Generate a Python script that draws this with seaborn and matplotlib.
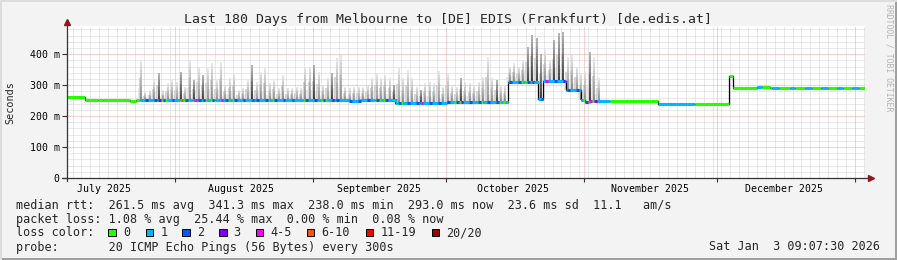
import numpy as np
import pandas as pd
import matplotlib
matplotlib.use("Agg")
import matplotlib.pyplot as plt
import matplotlib.dates as mdates
from matplotlib.patches import Rectangle
import seaborn as sns

# ---------------- data ----------------
title = "Last 180 Days from Melbourne to [DE] EDIS (Frankfurt) [de.edis.at]"
window_end = "2026-01-03 09:07:30"
window_days = 180

# median rtt as steps: day (since window start) where a level begins, level in ms
median_day = [0.0, 4.4, 7.3, 8.5, 14.5, 15.9, 64.0, 66.3, 74.1, 79.8, 85.9,
              99.6, 106.3, 107.4, 112.6, 116.0, 116.9, 118.0, 133.3, 149.3,
              150.2, 155.6, 158.5]
median_ms = [263, 251, 253, 251, 248, 251, 248, 251, 241, 243, 245,
             311, 255, 312, 285, 252, 247, 250, 239, 330,
             291, 294, 291]

# loss category of the median line: day where a run begins, category index
loss_day = [0, 16.8, 20.6, 23.1, 25.8, 28.5, 31.4, 33.7, 35.9, 38.4, 45.4, 47.6,
            53.5, 54.6, 56.8, 59.1, 69.7, 72.4, 74.6, 76.0, 87.2, 89.5, 92.6,
            94.0, 97.1, 99.6, 102.3, 104.5, 116.2, 119.2, 122.5, 133.3, 141.7,
            155.6, 156.8, 159.0, 160.5, 163.0, 164.2, 166.5, 168.0, 170.0, 171.5,
            173.5, 175.0, 177.0, 178.5]
loss_cat = [0, 1, 0, 1, 0, 1, 0, 1, 0, 1, 0, 1,
            0, 1, 0, 1, 0, 1, 0, 1, 0, 1, 0,
            1, 0, 1, 0, 1, 0, 1, 0, 1, 0,
            1, 0, 1, 0, 1, 0, 1, 0, 1, 0,
            1, 0, 1, 0]

# daily congestion spikes ("smoke"): one per day starting at spike_first_day
spike_first_day = 17.0
spike_peak_ms = [381, 279, 283, 317, 338, 283, 306, 317, 311, 344,
                 295, 381, 317, 360, 333, 354, 371, 317, 376, 300,
                 322, 338, 284, 290, 317, 366, 311, 344, 354, 306,
                 317, 290, 333, 290, 290, 295, 290, 360, 360, 366,
                 344, 300, 322, 338, 387, 398, 295, 290, 295, 295,
                 295, 300, 322, 338, 322, 333, 322, 300, 354, 322,
                 349, 322, 295, 284, 306, 311, 306, 345, 295, 338,
                 300, 295, 322, 311, 306, 300, 311, 327, 392, 322,
                 317, 300, 300, 360, 371, 360, 381, 424, 462, 451,
                 400, 414, 381, 446, 467, 472, 392, 397, 360, 340,
                 345, 408, 392, 322]
spike_loss = [1, 2, 1, 2, 3, 2, 1, 2, 1, 5,
              2, 1, 4, 2, 2, 1, 2, 1, 4, 2,
              1, 2, 1, 2, 1, 2, 2, 1, 2, 1,
              2, 1, 2, 1, 2, 1, 1, 2, 1, 2,
              1, 2, 1, 3, 2, 1, 1, 2, 1, 2,
              1, 2, 1, 2, 1, 2, 1, 1, 2, 1,
              2, 1, 2, 4, 1, 2, 1, 2, 1, 2,
              1, 2, 3, 1, 2, 1, 2, 1, 2, 1,
              2, 1, 1, 2, 1, 2, 1, 2, 2, 1,
              2, 4, 1, 2, 1, 3, 2, 1, 2, 1,
              2, 4, 3, 1]
dark_spikes = [4, 9, 12, 14, 25, 39, 43, 57, 63, 72, 80, 87, 88, 89, 90, 93, 94, 95, 101]

loss_colors = ["#26ff00", "#00b8ff", "#0059ff", "#7e00ff",
               "#ff00ff", "#ff5500", "#ff0000", "#a10000"]
loss_labels = ["0", "1", "2", "3", "4-5", "6-10", "11-19", "20/20"]

y_ticks = [0, 100, 200, 300, 400]
y_tick_labels = ["0", "100 m", "200 m", "300 m", "400 m"]

legend_rows = [
    "median rtt:  261.5 ms avg  341.3 ms max  238.0 ms min  293.0 ms now  23.6 ms sd  11.1   am/s",
    "packet loss: 1.08 % avg  25.44 % max  0.00 % min  0.08 % now",
    "loss color:",
    "probe:       20 ICMP Echo Pings (56 Bytes) every 300s",
]
stamp = "Sat Jan  3 09:07:30 2026"
side_note = "RRDTOOL / TOBI OETIKER"

# ---------------- figure ----------------
sns.set_style("white")
plt.rcParams['font.family'] = ['DejaVu Sans Mono', 'DejaVu Sans']

W, H = 897, 260
fig = plt.figure(figsize=(W / 100, H / 100), dpi=100)
fig.patch.set_facecolor('#f3f3f3')

L, R, T, B = 67.0, 865.4, 26.0, 178.0
ax = fig.add_axes([L / W, 1 - B / H, (R - L) / W, (B - T) / H])
ax.set_facecolor('white')

end = pd.Timestamp(window_end)
start = end - pd.Timedelta(days=window_days)
t0 = mdates.date2num(start.to_pydatetime())
t1 = mdates.date2num(end.to_pydatetime())
px_per_day = 4.444
ax.set_xlim(t0 + (L - 65.4) / px_per_day, t1)
ax.set_ylim(0, 491)
for s in ax.spines.values():
    s.set_visible(False)

dotted = (0, (1, 1))
grid_kw = dict(lw=0.72, ls=dotted)
minor_c, major_c = '#d2d2d2', '#eea4a4'
# horizontal grid
for v in range(20, 491, 20):
    if v % 100 == 0:
        ax.axhline(v, color=major_c, zorder=0.6, **grid_kw)
    else:
        ax.axhline(v, color=minor_c, zorder=0.5, **grid_kw)
# vertical grid
months = pd.date_range(start.normalize() + pd.offsets.MonthBegin(1), end, freq='MS')
month_nums = [mdates.date2num(m.to_pydatetime()) for m in months]
anchor = pd.Timestamp('2026-01-01')
minor_days = [anchor + pd.Timedelta(days=2 * k) for k in range(-95, 3)]
month_set = set(months)
for m in minor_days:
    if start < m <= end and m not in month_set:
        ax.axvline(mdates.date2num(m.to_pydatetime()), color=minor_c, zorder=0.5,
                   **grid_kw)
for mn in month_nums:
    ax.axvline(mn, color=major_c, zorder=0.6, **grid_kw)

# ticks
ax.set_xticks(month_nums)
ax.set_xticklabels([])
mids = [pd.Timestamp(year=m.year, month=m.month, day=16)
        for m in pd.date_range(start.normalize() - pd.offsets.MonthBegin(1), end, freq='MS')]
mids = [m for m in mids if start < m < end]
ax.set_xticks([mdates.date2num(m.to_pydatetime()) for m in mids], minor=True)
ax.set_xticklabels([m.strftime('%B %Y') for m in mids], minor=True)
ax.tick_params(axis='x', which='major', bottom=True, length=3, width=0.8, color='#333333')
ax.tick_params(axis='x', which='minor', bottom=True, length=0, pad=4.0, labelsize=7.1,
               labelcolor='black')
ax.set_yticks(y_ticks)
ax.set_yticklabels(y_tick_labels)
ax.tick_params(axis='y', which='major', left=True, length=3.6, width=0.8, color='#333333',
               pad=1.6, labelsize=7.1, labelcolor='black')

# ---------------- marks ----------------
med_d = np.array(median_day, dtype=float)
med_v = np.array(median_ms, dtype=float)
loss_d = np.array(loss_day, dtype=float)
loss_c = np.array(loss_cat)


def med_at(d):
    return med_v[np.searchsorted(med_d, d, side='right') - 1]


def loss_at(d):
    return loss_c[np.searchsorted(loss_d, d, side='right') - 1]


# smoke
dark = set(dark_spikes)
for k, peak in enumerate(spike_peak_ms):
    d = spike_first_day + k
    base = med_at(d)
    x = t0 + d
    n = 12
    edges = np.linspace(base, peak, n + 1)
    if k in dark:
        greys = np.linspace(0.05, 0.62, n)
    else:
        greys = np.linspace(0.45, 0.88, n)
    h = peak - base
    ax.vlines([x - 0.55], base, base + 0.3 * h, colors='0.9', lw=1.3, zorder=1.8)
    ax.vlines([x - 0.28], base, base + 0.55 * h, colors='0.82', lw=1.3, zorder=1.9)
    ax.vlines([x] * n, edges[:-1], edges[1:], colors=[str(g) for g in greys],
              lw=1.1, zorder=2)

# black median step line
xs, ys = [], []
bounds = list(med_d) + [window_days]
for i, v in enumerate(med_v):
    xs += [t0 + bounds[i], t0 + bounds[i + 1]]
    ys += [v, v]
line_df = pd.DataFrame({'t': xs, 'ms': ys})
sns.lineplot(data=line_df, x='t', y='ms', estimator=None, sort=False, color='black',
             lw=0.9, ax=ax, zorder=3)

# loss-coloured median
cuts = np.unique(np.concatenate([med_d, loss_d, [window_days]]))
for a, b in zip(cuts[:-1], cuts[1:]):
    ax.hlines(med_at(a), t0 + a, t0 + b, colors=loss_colors[loss_at(a)], lw=2.2, zorder=4)
for k, c in enumerate(spike_loss):
    d = spike_first_day + k
    ax.hlines(med_at(d), t0 + d - 0.1, t0 + d + 0.5, colors=loss_colors[c], lw=2.2, zorder=5)

ax.set_xlabel("")
ax.set_ylabel("")

# axis lines with arrows
ax.plot([-5 / (R - L), 1 + 6 / (R - L)], [0, 0], transform=ax.transAxes, color='#333333',
        lw=0.9, clip_on=False, zorder=6)
ax.plot([0, 0], [-3 / (B - T), 1 + 2 / (B - T)], transform=ax.transAxes, color='#333333',
        lw=0.9, clip_on=False, zorder=6)
ax.plot([1 + 6 / (R - L)], [0], marker='>', ms=4.5, color='#8b1a1a', mec='#8b1a1a',
        transform=ax.transAxes, clip_on=False, zorder=7)
ax.plot([0], [1 + 4 / (B - T)], marker='^', ms=4.5, color='#8b1a1a', mec='#8b1a1a',
        transform=ax.transAxes, clip_on=False, zorder=7)

# ---------------- texts ----------------
fig.text(448 / W, 1 - 19 / H, title, ha='center', va='center', fontsize=9.5)
fig.text(10.5 / W, 1 - 103 / H, "Seconds", ha='center', va='center', rotation=90,
         fontsize=7.3)
fig.text(889 / W, 1 - 58 / H, side_note, ha='center', va='center', rotation=270,
         fontsize=5.9, color='#b4b4b4')
row_base = [208.5, 222.5, 236.5, 250.5]
for txt, yb in zip(legend_rows, row_base):
    fig.text(16 / W, 1 - yb / H, txt, ha='left', va='baseline', fontsize=8.5)
fig.text(880 / W, 1 - row_base[3] / H, stamp, ha='right', va='baseline', fontsize=8.5)

sq_x = [108.3, 145.7, 182.3, 219.0, 255.7, 306.7, 365.7, 431.7]
for x, c, lab in zip(sq_x, loss_colors, loss_labels):
    fig.add_artist(Rectangle((x / W, 1 - 236.2 / H), 7.6 / W, 7.6 / H,
                             transform=fig.transFigure, facecolor=c,
                             edgecolor='black', lw=0.7))
    fig.text((x + 14.5) / W, 1 - row_base[2] / H, lab, ha='left', va='baseline',
             fontsize=8.5)

# frame
fig.add_artist(Rectangle((0, 0), 1, 2 / H, transform=fig.transFigure, facecolor='#a0a0a0',
                         edgecolor='none'))
fig.add_artist(Rectangle((1 - 2 / W, 0), 2 / W, 1, transform=fig.transFigure,
                         facecolor='#a0a0a0', edgecolor='none'))
fig.add_artist(Rectangle((0, 1 - 2 / H), 1, 2 / H, transform=fig.transFigure,
                         facecolor='#dcdcdc', edgecolor='none'))
fig.add_artist(Rectangle((0, 0), 2 / W, 1, transform=fig.transFigure,
                         facecolor='#dcdcdc', edgecolor='none'))

fig.savefig("out.png", dpi=100, facecolor=fig.get_facecolor())
